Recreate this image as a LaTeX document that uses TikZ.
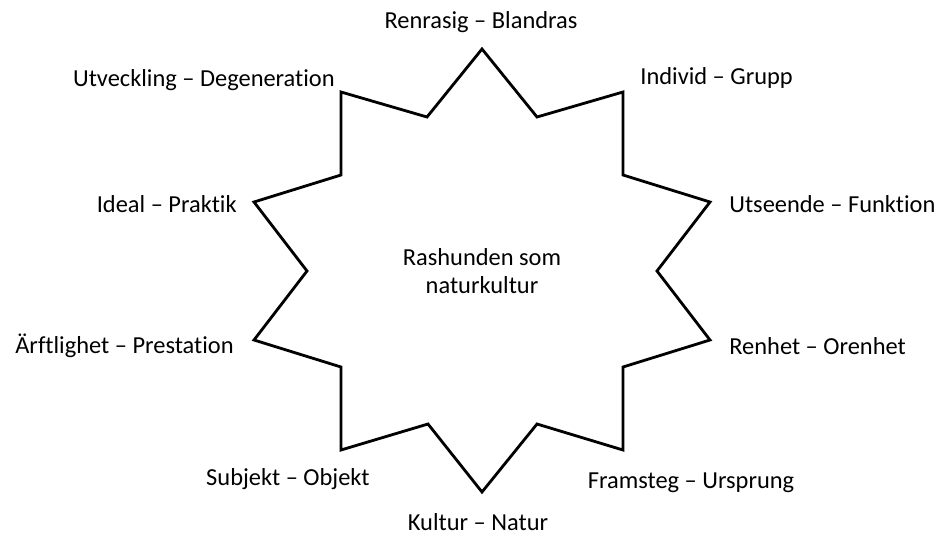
\documentclass[tikz,border=0pt]{standalone}
\usepackage{fontspec}
\setmainfont{Carlito}[Ligatures=CommonOff]
\usetikzlibrary{positioning}

\tikzstyle{pole} = [inner sep=0pt, font=\fontsize{13.9}{16}\selectfont]
\tikzstyle{core} = [align=center, inner sep=0pt, font=\fontsize{13.9}{15.5}\selectfont]
\tikzstyle{star} = [draw, line width=1.6pt, line join=miter]

\begin{document}
\begin{tikzpicture}[x=0.02cm, y=-0.02cm]
    \useasboundingbox (0,0) rectangle (939,534);

    % outer points
    \coordinate (top) at (482,49);
    \coordinate (upright) at (623,92);
    \coordinate (rightup) at (710,202);
    \coordinate (rightlow) at (710,340);
    \coordinate (lowright) at (623,450);
    \coordinate (bottom) at (482,492);
    \coordinate (lowleft) at (341,450);
    \coordinate (leftlow) at (254,340);
    \coordinate (leftup) at (254,202);
    \coordinate (upleft) at (341,92);

    % inner corners
    \coordinate (in1) at (537,117);
    \coordinate (in2) at (623,175);
    \coordinate (in3) at (657,271);
    \coordinate (in4) at (623,367);
    \coordinate (in5) at (537,424);
    \coordinate (in6) at (428,424);
    \coordinate (in7) at (341,367);
    \coordinate (in8) at (307,271);
    \coordinate (in9) at (341,175);
    \coordinate (in10) at (427,117);

    % star
    \draw[star] (top) -- (in1) -- (upright) -- (in2) -- (rightup) -- (in3)
        -- (rightlow) -- (in4) -- (lowright) -- (in5) -- (bottom) -- (in6)
        -- (lowleft) -- (in7) -- (leftlow) -- (in8) -- (leftup) -- (in9)
        -- (upleft) -- (in10) -- cycle;

    % centre
    \node[core] (centre) at (482,271) {Rashunden som\\naturkultur};

    % poles
    \node[pole, anchor=base] (renrasig) at (481,29) {Renrasig – Blandras};
    \node[pole, anchor=base west] (individ) at (640,84) {Individ – Grupp};
    \node[pole, anchor=base west] (utseende) at (729,212) {Utseende – Funktion};
    \node[pole, anchor=base west] (renhet) at (729,354) {Renhet – Orenhet};
    \node[pole, anchor=base] (framsteg) at (691,488) {Framsteg – Ursprung};
    \node[pole, anchor=base] (kultur) at (478,530) {Kultur – Natur};
    \node[pole, anchor=base east] (subjekt) at (370,485) {Subjekt – Objekt};
    \node[pole, anchor=base east] (arftlighet) at (234,353) {Ärftlighet – Prestation};
    \node[pole, anchor=base east] (ideal) at (237,212) {Ideal – Praktik};
    \node[pole, anchor=base east] (utveckling) at (335,86) {Utveckling – Degeneration};
\end{tikzpicture}
\end{document}
